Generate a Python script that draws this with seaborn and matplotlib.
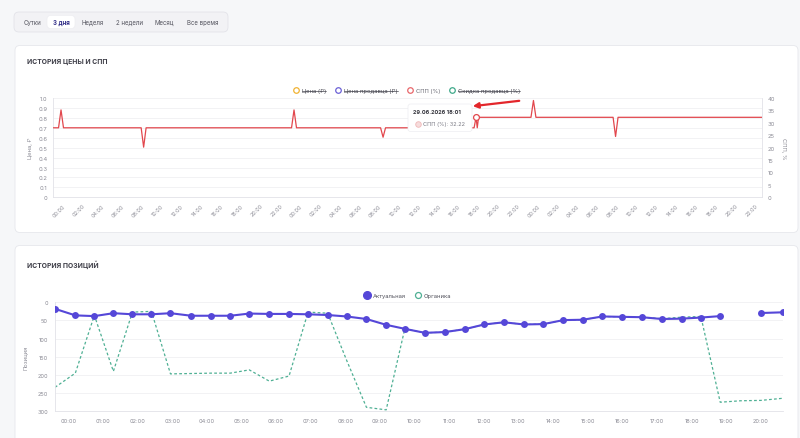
import matplotlib.pyplot as plt
import numpy as np
import pandas as pd
import seaborn as sns
from matplotlib.lines import Line2D
from matplotlib.patches import FancyArrowPatch, FancyBboxPatch
from matplotlib.transforms import IdentityTransform

# %% data
tabs = ["Сутки", "3 дня", "Неделя", "2 недели", "Месяц", "Все время"]
active_tab = "3 дня"

# price / SPP chart (hours from first day 00:00)
spp_hours = [-0.93, -0.4, -0.15, 0.1, 7.95, 8.2, 8.45, 23.15, 23.4, 23.65,
             32.15, 32.4, 32.65, 41.6, 41.8, 41.92, 42.05, 47.35, 47.6, 47.85,
             55.65, 55.9, 56.15, 70.7]
spp_values = [28, 28, 35.2, 28, 28, 20.2, 28, 28, 35.2, 28,
              28, 24.2, 28, 28, 32.22, 28, 32.22, 32.22, 39.0, 32.22,
              32.22, 24.5, 32.22, 32.22]
hover_idx = 14
hover_label = "29.06.2026 18:01"

price_legend = ["Цена (₽)", "Цена продавца (₽)", "СПП (%)", "Скидка продавца (%)"]
price_legend_colors = ["#f0b232", "#6b60d6", "#e8676b", "#3fa98a"]
price_legend_hidden = [True, True, False, True]

# positions chart (hours of the day)
pos_hours = [-0.385, 0.202, 0.752, 1.301, 1.851, 2.400, 2.950, 3.548, 4.118, 4.676,
             5.226, 5.804, 6.374, 6.923, 7.490, 8.039, 8.609, 9.179, 9.717, 10.295,
             10.873, 11.443, 12.013, 12.579, 13.158, 13.719, 14.297, 14.855, 15.425, 15.983,
             16.562, 17.140, 17.710, 18.268, 18.826, 19.42, 20.003, 20.648]
pos_actual = [18, 36, 38, 30, 33, 33, 30, 37, 37, 37,
              31, 32, 32, 33, 35, 39, 46, 62, 73, 84,
              82, 74, 61, 55, 61, 60, 49, 48, 39, 40,
              41, 46, 45, 42, 38, np.nan, 29.5, 27.5]
pos_organic = [234, 195, 36, 190, 27, 25, 197, 196, 195, 195,
               186, 217, 203, 27, 30, 160, 289, 296, 73, 84,
               82, 74, 61, 55, 61, 60, 49, 48, 39, 40,
               41, 45, 41, 39, 275, 271, 270, 264]

# %% style
sns.set_style("white")
plt.rcParams["font.family"] = ["Inter", "DejaVu Sans"]

W, H = 800, 439
PX = IdentityTransform()
RED = "#e2474d"
PURPLE = "#5547d8"
GREEN = "#4fb094"
TICK = "#8b8b95"
GRID = "#f0f0f3"
AXL = "#e2e2e8"

fig = plt.figure(figsize=(8, 4.39), dpi=100)
fig.patch.set_facecolor("#f6f7f9")


def rbox(x0, y0, x1, y1, fc, ec, r, z, lw=0.6):
    p = FancyBboxPatch((x0, H - y1), x1 - x0, y1 - y0,
                       boxstyle=f"round,pad=0,rounding_size={r}",
                       transform=PX, fc=fc, ec=ec, lw=lw, zorder=z)
    fig.add_artist(p)


def ftext(x, y, s, **kw):
    return fig.text(x, H - y, s, transform=PX, **kw)


def axrect(x0, y0, x1, y1):
    return [x0 / W, 1 - y1 / H, (x1 - x0) / W, (y1 - y0) / H]


# page, tab bar and cards
rbox(14, 13, 228, 33, "#f2f2f5", "#e3e3e9", 5, -5)
rbox(47, 16.5, 75, 29.5, "white", "#ececf0", 4, -4, lw=0.4)
tab_x = [32.5, 61, 92.5, 129.5, 164.5, 202.5]
for t, x in zip(tabs, tab_x):
    active = t == active_tab
    ftext(x, 23, t, fontsize=4.4, ha="center", va="center",
          color="#2f2b86" if active else "#55555f",
          weight="bold" if active else "normal")

rbox(15, 46.5, 798, 233.5, "white", "#e6e7ec", 5, -5)
rbox(15, 246.5, 798, 450, "white", "#e6e7ec", 5, -5)

ftext(27, 62, "ИСТОРИЯ ЦЕНЫ И СПП", fontsize=4.9, weight="bold",
      color="#3e3e48", va="center")
ftext(27, 265, "ИСТОРИЯ ПОЗИЦИЙ", fontsize=4.9, weight="bold",
      color="#3e3e48", va="center")

# %% price / SPP chart
ax1 = fig.add_axes(axrect(53.3, 99, 762, 198.3))
ax1r = ax1.twinx()

spp_df = pd.DataFrame({"hour": spp_hours, "spp": spp_values})
sns.lineplot(data=spp_df, x="hour", y="spp", ax=ax1r, color=RED,
             linewidth=0.9, estimator=None, sort=False, legend=False)
ax1r.plot(spp_hours[hover_idx], spp_values[hover_idx], "o", ms=4.2,
          mfc="white", mec=RED, mew=0.9, zorder=5)

ax1.set_xlim(spp_hours[0], spp_hours[-1])
ax1.set_ylim(0, 1)
ax1r.set_ylim(0, 40)
ax1.set_yticks(np.arange(0, 1.01, 0.1))
ax1.set_yticklabels(["0"] + [f"{v:.1f}" for v in np.arange(0.1, 1.01, 0.1)])
ax1r.set_yticks(np.arange(0, 41, 5))
xt = np.arange(0, 71, 2)
ax1.set_xticks(xt)
ax1.set_xticklabels([f"{int(h) % 24:02d}:00" for h in xt], rotation=45,
                    ha="right", rotation_mode="anchor")
ax1.grid(axis="y", color=GRID, lw=0.6)
ax1.set_ylabel("Цена, ₽", fontsize=4.2, color=TICK, labelpad=4)
ax1r.set_ylabel("СПП, %", fontsize=4.2, color=TICK, rotation=270, labelpad=8)
ax1.set_xlabel("")
ax1r.set_xlabel("")
for a in (ax1, ax1r):
    a.tick_params(length=0, labelsize=4.2, labelcolor=TICK, pad=4)
    for s in a.spines.values():
        s.set_visible(False)
ax1.spines["left"].set_visible(True)
ax1.spines["bottom"].set_visible(True)
ax1r.spines["right"].set_visible(True)
for s in (ax1.spines["left"], ax1.spines["bottom"], ax1r.spines["right"]):
    s.set_color(AXL)
    s.set_linewidth(0.6)
ax1.tick_params(axis="x", labelsize=3.9, pad=4)

handles = [Line2D([], [], ls="", marker="o", ms=4, mfc="white", mec=c, mew=0.9)
           for c in price_legend_colors]
leg1 = fig.legend(handles, price_legend, loc="center",
                  bbox_to_anchor=(407 / W, 1 - 91.7 / H), ncol=4, frameon=False,
                  fontsize=4.2, handlelength=0.8, handletextpad=0.6,
                  columnspacing=1.7)
for txt, hidden in zip(leg1.get_texts(), price_legend_hidden):
    txt.set_color("#45454f" if hidden else "#6a6a74")

# tooltip + arrow
rbox(408, 105, 472, 132.5, "white", "#ededf1", 2.5, 10, lw=0.5)
ftext(413, 113, hover_label, fontsize=4.0, weight="bold", color="#33333b",
      va="center", zorder=11)
fig.add_artist(Line2D([417.5], [H - 124.5], transform=PX, ls="", marker="o",
                      ms=4, mfc="#f6dcdc", mec="#f0b8b8", mew=0.6, zorder=11))
ftext(423, 124.5, f"СПП (%): {spp_values[hover_idx]:.2f}", fontsize=4.0,
      color="#7a7a84", va="center", zorder=11)
fig.add_artist(FancyArrowPatch((522, H - 101.5), (470, H - 107.5), transform=PX,
                               arrowstyle="-|>", mutation_scale=8, lw=1.6,
                               color="#e3262b", zorder=12))

# %% positions chart
ax2 = fig.add_axes(axrect(55, 303.3, 783.3, 412.3))
pos_df = pd.DataFrame({"hour": pos_hours, "actual": pos_actual,
                       "organic": pos_organic})
pos_df["segment"] = pos_df["actual"].isna().cumsum()

sns.lineplot(data=pos_df, x="hour", y="organic", ax=ax2, color=GREEN,
             linewidth=0.9, linestyle=(0, (2.2, 1.8)), estimator=None,
             legend=False, zorder=2)
sns.lineplot(data=pos_df.dropna(subset=["actual"]), x="hour", y="actual",
             units="segment", estimator=None, ax=ax2, color=PURPLE,
             linewidth=1.5, marker="o", markersize=5.0, markeredgewidth=0,
             legend=False, zorder=3)

ax2.set_xlim(pos_hours[0], pos_hours[-1])
ax2.set_ylim(300, 0)
ax2.set_yticks(np.arange(0, 301, 50))
ax2.set_xticks(np.arange(0, 21))
ax2.set_xticklabels([f"{h:02d}:00" for h in range(21)])
ax2.grid(axis="y", color=GRID, lw=0.6)
ax2.set_ylabel("Позиция", fontsize=4.2, color=TICK, labelpad=7)
ax2.set_xlabel("")
ax2.tick_params(length=0, labelsize=4.0, labelcolor=TICK, pad=5)
for k, s in ax2.spines.items():
    s.set_visible(k in ("left", "bottom"))
    s.set_color(AXL)
    s.set_linewidth(0.6)

h2 = [Line2D([], [], ls="", marker="o", ms=5.5, mfc=PURPLE, mec=PURPLE),
      Line2D([], [], ls="", marker="o", ms=4.3, mfc="white", mec=GREEN, mew=0.9)]
fig.legend(h2, ["Актуальная", "Органика"], loc="center",
           bbox_to_anchor=(408 / W, 1 - 296.5 / H), ncol=2, frameon=False,
           fontsize=4.2, handlelength=0.8, handletextpad=0.6,
           columnspacing=1.6, labelcolor="#55555f")

# strike-through for hidden legend items
fig.canvas.draw()
for txt, hidden in zip(leg1.get_texts(), price_legend_hidden):
    if hidden:
        bb = txt.get_window_extent()
        ym = (bb.y0 + bb.y1) / 2
        fig.add_artist(Line2D([bb.x0, bb.x1], [ym, ym], transform=PX,
                              color="#45454f", lw=0.5))

fig.savefig("out.png", dpi=100, facecolor=fig.get_facecolor())
